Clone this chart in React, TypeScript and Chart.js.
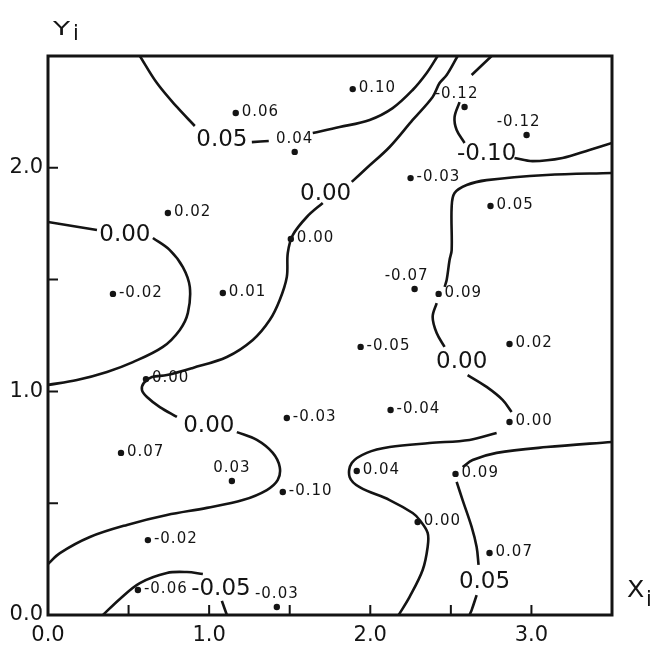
import React, { useEffect, useRef } from "react";
import { Chart, registerables } from "chart.js";

Chart.register(...registerables);

const INK = "#141414";
const FONT = "'DejaVu Sans', sans-serif";

// Sample locations (X_i, Y_i) and the residual observed at each one
const sampleX = [1.165, 1.531, 0.744, 1.507, 0.403, 1.085, 1.891, 2.585, 2.970, 2.250, 2.746, 2.275, 2.424, 0.608, 1.482, 0.453, 1.141, 1.457, 0.620, 0.558, 1.420, 1.940, 2.864, 2.126, 2.864, 1.916, 2.529, 2.294, 2.740];
const sampleY = [2.245, 2.071, 1.798, 1.682, 1.436, 1.440, 2.352, 2.272, 2.147, 1.954, 1.829, 1.458, 1.436, 1.055, 0.881, 0.725, 0.599, 0.550, 0.335, 0.112, 0.036, 1.199, 1.212, 0.917, 0.863, 0.644, 0.631, 0.416, 0.277];
const sampleValue = [0.06, 0.04, 0.02, 0.0, -0.02, 0.01, 0.10, -0.12, -0.12, -0.03, 0.05, -0.07, 0.09, 0.0, -0.03, 0.07, 0.03, -0.10, -0.02, -0.06, -0.03, -0.05, 0.02, -0.04, 0.0, 0.04, 0.09, 0.0, 0.07];
// where each value is written next to its dot: r = right, u = above, ul = above and to the left
const sampleLabelSide = ["r", "u", "r", "r", "r", "r", "r", "ul", "ul", "r", "r", "ul", "r", "r", "r", "r", "u", "r", "r", "r", "u", "r", "r", "r", "r", "r", "r", "r", "r"];

// Contour lines, split where a label interrupts them
const c005TopA = [[0.570, 2.5], [0.676, 2.379], [0.800, 2.272], [0.911, 2.187]];
const c005TopB = [[1.265, 2.115], [1.370, 2.120]];
const c005TopC = [[1.643, 2.156], [1.810, 2.182], [1.996, 2.214], [2.139, 2.267], [2.263, 2.348], [2.350, 2.424], [2.418, 2.5]];
const cm010A = [[2.753, 2.5], [2.629, 2.415]];
const cm010B = [[2.554, 2.294], [2.523, 2.227], [2.536, 2.169], [2.585, 2.111]];
const cm010C = [[2.895, 2.044], [3.007, 2.030], [3.193, 2.044], [3.360, 2.080], [3.5, 2.111]];
const c000CentreA = [[2.542, 2.5], [2.474, 2.415], [2.430, 2.379], [2.387, 2.317], [2.263, 2.214], [2.120, 2.093], [1.978, 1.999], [1.885, 1.937]];
const c000CentreB = [[1.705, 1.843], [1.606, 1.780], [1.519, 1.699], [1.488, 1.619], [1.482, 1.512], [1.438, 1.409], [1.376, 1.319], [1.271, 1.230], [1.110, 1.154], [0.899, 1.105], [0.738, 1.073], [0.645, 1.064], [0.595, 1.038], [0.583, 1.006], [0.614, 0.975], [0.694, 0.930], [0.800, 0.886]];
const c000CentreC = [[1.172, 0.818], [1.296, 0.783], [1.395, 0.725], [1.438, 0.662], [1.426, 0.604], [1.358, 0.559], [1.209, 0.514], [0.986, 0.479], [0.738, 0.447], [0.490, 0.403], [0.260, 0.349], [0.074, 0.277], [0, 0.228]];
const c000LeftA = [[0, 1.758], [0.304, 1.722]];
const c000LeftB = [[0.651, 1.686], [0.756, 1.632], [0.837, 1.556], [0.880, 1.467], [0.868, 1.351], [0.818, 1.275], [0.713, 1.199], [0.527, 1.131], [0.366, 1.087], [0.180, 1.051], [0, 1.029]];
const cm005A = [[0.341, 0], [0.446, 0.072], [0.570, 0.143], [0.738, 0.188], [0.862, 0.192], [0.961, 0.183]];
const cm005B = [[1.079, 0.063], [1.110, 0]];
const c000RightA = [[3.5, 1.977], [3.094, 1.968], [2.722, 1.945], [2.598, 1.923], [2.523, 1.887], [2.505, 1.825], [2.505, 1.632], [2.492, 1.588], [2.474, 1.498], [2.461, 1.467]];
const c000RightB = [[2.412, 1.395], [2.387, 1.333], [2.412, 1.261], [2.461, 1.199]];
const c000RightC = [[2.604, 1.073], [2.722, 1.020], [2.821, 0.962], [2.877, 0.908]];
const c000RightD = [[2.784, 0.814], [2.616, 0.783], [2.368, 0.769], [2.120, 0.751], [1.978, 0.725], [1.885, 0.680], [1.872, 0.617], [1.934, 0.572], [2.120, 0.514], [2.263, 0.456], [2.306, 0.425], [2.356, 0.367], [2.356, 0.304], [2.325, 0.201], [2.244, 0.081], [2.176, 0]];
const c005RightA = [[3.5, 0.774], [3.094, 0.751], [2.784, 0.725], [2.635, 0.693], [2.573, 0.662]];
const c005RightB = [[2.536, 0.595], [2.573, 0.514], [2.629, 0.394], [2.660, 0.304], [2.672, 0.224]];
const c005RightC = [[2.660, 0.089], [2.629, 0.022], [2.616, 0]];

const contourSegments = [
  c005TopA, c005TopB, c005TopC, cm010A, cm010B, cm010C,
  c000CentreA, c000CentreB, c000CentreC, c000LeftA, c000LeftB,
  cm005A, cm005B, c000RightA, c000RightB, c000RightC, c000RightD,
  c005RightA, c005RightB, c005RightC,
];

// Contour level labels and where they sit on their lines
const contourLabelText = ["0.05", "-0.10", "0.00", "0.00", "0.00", "0.00", "0.05", "-0.05"];
const contourLabelX = [1.079, 2.722, 1.723, 0.477, 0.998, 2.567, 2.709, 1.073];
const contourLabelY = [2.129, 2.066, 1.887, 1.704, 0.850, 1.136, 0.152, 0.121];

const xTickLabels = ["0.0", "1.0", "2.0", "3.0"];
const yTickLabels = ["0.0", "1.0", "2.0"];

// draws a letter stretched horizontally, as lettering-guide capitals are wide
function wideText(ctx: CanvasRenderingContext2D, text: string, x: number, y: number, stretch: number) {
  ctx.save();
  ctx.translate(x, y);
  ctx.scale(stretch, 1);
  ctx.fillText(text, 0, 0);
  ctx.restore();
}

const annotate = {
  id: "annotate",
  afterDraw(chart: any) {
    const { ctx, chartArea: a, scales } = chart;
    const xs = scales.x;
    const ys = scales.y;
    ctx.save();
    ctx.strokeStyle = INK;
    ctx.fillStyle = INK;

    // inward tick marks
    ctx.lineWidth = 2;
    ctx.beginPath();
    xs.ticks.forEach((t: any) => {
      if (t.value <= xs.min || t.value >= xs.max) return;
      const px = xs.getPixelForValue(t.value);
      ctx.moveTo(px, a.bottom);
      ctx.lineTo(px, a.bottom - 10);
    });
    ys.ticks.forEach((t: any) => {
      if (t.value <= ys.min || t.value >= ys.max) return;
      const py = ys.getPixelForValue(t.value);
      ctx.moveTo(a.left, py);
      ctx.lineTo(a.left + 10, py);
    });
    ctx.stroke();

    // frame
    ctx.lineWidth = 3;
    ctx.strokeRect(a.left, a.top, a.right - a.left, a.bottom - a.top);

    // values beside the sample dots
    ctx.font = `15px ${FONT}`;
    (ctx as any).letterSpacing = "1px";
    sampleValue.forEach((v, i) => {
      const px = xs.getPixelForValue(sampleX[i]);
      const py = ys.getPixelForValue(sampleY[i]);
      const text = v.toFixed(2);
      const side = sampleLabelSide[i];
      ctx.textBaseline = "middle";
      if (side === "r") {
        ctx.textAlign = "left";
        ctx.fillText(text, px + 6, py - 1);
      } else {
        ctx.textAlign = "center";
        ctx.fillText(text, px + (side === "ul" ? -8 : 0), py - 13);
      }
    });

    // contour level labels
    ctx.font = `23px ${FONT}`;
    (ctx as any).letterSpacing = "0px";
    ctx.textAlign = "center";
    ctx.textBaseline = "middle";
    contourLabelText.forEach((t, i) => {
      ctx.fillText(t, xs.getPixelForValue(contourLabelX[i]), ys.getPixelForValue(contourLabelY[i]) + 1);
    });

    // axis names
    ctx.textAlign = "left";
    ctx.textBaseline = "alphabetic";
    ctx.font = `20px ${FONT}`;
    wideText(ctx, "Y", a.left + 5, a.top - 21, 1.4);
    ctx.font = `23px ${FONT}`;
    wideText(ctx, "X", a.right + 15, a.bottom - 18, 1.1);
    ctx.font = `21px ${FONT}`;
    ctx.fillText("i", a.left + 25, a.top - 16);
    ctx.fillText("i", a.right + 34, a.bottom - 9);
    ctx.restore();
  },
};

export default function App() {
  const ref = useRef<HTMLCanvasElement>(null);

  useEffect(() => {
    const canvas = ref.current;
    if (!canvas) return;

    const contourSets = contourSegments.map((seg) => ({
      data: seg.map(([x, y]) => ({ x, y })),
      showLine: true,
      borderColor: INK,
      borderWidth: 2.6,
      pointRadius: 0,
      tension: 0.35,
      fill: false,
    }));

    const samples = {
      data: sampleX.map((x, i) => ({ x, y: sampleY[i] })),
      showLine: false,
      pointRadius: 3.2,
      pointBackgroundColor: INK,
      pointBorderWidth: 0,
    };

    const chart = new Chart(canvas, {
      type: "scatter",
      data: { datasets: [...contourSets, samples] as any },
      options: {
        responsive: false,
        animation: false,
        devicePixelRatio: 1,
        events: [],
        layout: { padding: { left: 0, top: 56, right: 46, bottom: 0 } },
        plugins: { legend: { display: false }, tooltip: { enabled: false } },
        scales: {
          x: {
            type: "linear",
            min: 0,
            max: 3.5,
            afterFit: (s: any) => {
              s.height = 31;
            },
            grid: { display: false, drawTicks: false },
            border: { display: false },
            ticks: {
              stepSize: 0.5,
              autoSkip: false,
              maxRotation: 0,
              padding: 8,
              color: INK,
              font: { family: FONT, size: 21 },
              callback: (v: any) => (Number.isInteger(v) && v < 3.5 ? xTickLabels[v] : ""),
            },
          },
          y: {
            type: "linear",
            min: 0,
            max: 2.5,
            afterFit: (s: any) => {
              s.width = 48;
            },
            grid: { display: false, drawTicks: false },
            border: { display: false },
            ticks: {
              stepSize: 0.5,
              autoSkip: false,
              padding: 5,
              color: INK,
              font: { family: FONT, size: 21 },
              callback: (v: any) => (Number.isInteger(v) && v < 2.5 ? yTickLabels[v] : ""),
            },
          },
        },
      },
      plugins: [annotate],
    });

    return () => chart.destroy();
  }, []);

  return (
    <div style={{ position: "fixed", left: 0, top: 0, width: 658, height: 646, background: "#fff" }}>
      <canvas ref={ref} width={658} height={646} style={{ display: "block" }} />
    </div>
  );
}
